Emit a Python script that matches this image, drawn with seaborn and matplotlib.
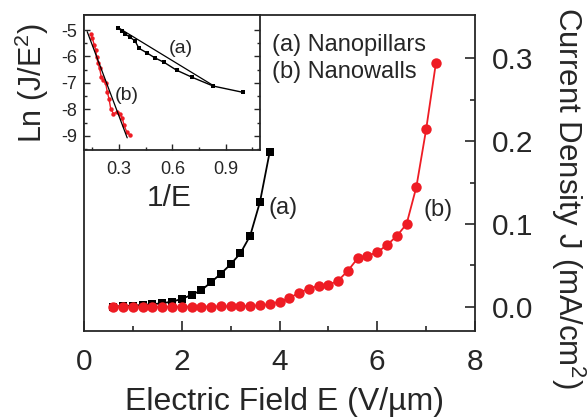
import numpy as np
import pandas as pd
import matplotlib
matplotlib.use("Agg")
import matplotlib.pyplot as plt
from matplotlib.ticker import MultipleLocator, FixedLocator
import seaborn as sns

# ---------------- data ----------------
E_a = [0.6, 0.8, 1.0, 1.2, 1.4, 1.6, 1.8, 2.0, 2.2, 2.4, 2.6, 2.8, 3.0, 3.2, 3.4, 3.6, 3.8]
J_a = [0.0004, 0.0012, 0.0016, 0.0024, 0.0033, 0.0045, 0.0064, 0.0096, 0.0145, 0.0201,
       0.0298, 0.0401, 0.0514, 0.0647, 0.0859, 0.1265, 0.187]

E_b = [0.6, 0.8, 1.0, 1.2, 1.4, 1.6, 1.8, 2.0, 2.2, 2.4, 2.6, 2.8, 3.0, 3.2, 3.4, 3.6, 3.8,
       4.0, 4.2, 4.4, 4.6, 4.8, 5.0, 5.2, 5.4, 5.6, 5.8, 6.0, 6.2, 6.4, 6.6, 6.8, 7.0, 7.2]
J_b = [0.0003, 0.0003, 0.0003, 0.0003, 0.0003, 0.0003, 0.0003, 0.0003, 0.0004, 0.0004,
       0.0005, 0.0006, 0.0008, 0.0010, 0.0013, 0.0018, 0.0033, 0.0064, 0.0105, 0.0173,
       0.0218, 0.0258, 0.0265, 0.0317, 0.0437, 0.0587, 0.0618, 0.0659, 0.0747, 0.0855,
       0.1000, 0.1446, 0.2140, 0.2940]

# inset: Fowler-Nordheim plot
invE_a = [0.296, 0.315, 0.333, 0.362, 0.390, 0.412, 0.456, 0.501, 0.553, 0.624, 0.712, 0.830, 0.999]
lnJ_a = [-4.91, -5.04, -5.14, -5.27, -5.41, -5.69, -5.86, -6.05, -6.22, -6.52, -6.79, -7.12, -7.36]

invE_b = [0.144, 0.150, 0.160, 0.169, 0.174, 0.182, 0.191, 0.200, 0.211, 0.225, 0.234, 0.244,
          0.253, 0.268, 0.287, 0.305, 0.318, 0.328, 0.343, 0.362]
lnJ_b = [-5.15, -5.31, -5.55, -5.76, -6.01, -6.26, -6.45, -6.77, -6.89, -7.02, -7.34, -7.61,
         -7.97, -8.16, -8.12, -8.16, -8.32, -8.60, -8.85, -8.98]

fit_a_x = [0.296, 0.830]
fit_a_y = [-4.91, -7.10]
fit_b_x = [0.121, 0.346]
fit_b_y = [-5.06, -9.08]

legend_lines = ["(a) Nanopillars", "(b) Nanowalls"]

# ---------------- style ----------------
sns.set_style("ticks")
plt.rcParams["font.family"] = ["Liberation Sans", "DejaVu Sans"]
plt.rcParams["mathtext.fontset"] = "custom"
plt.rcParams["mathtext.rm"] = "Liberation Sans"
plt.rcParams["mathtext.it"] = "Liberation Sans:italic"
plt.rcParams["mathtext.default"] = "regular"
plt.rcParams["axes.unicode_minus"] = False

RED = "#ee1c24"
W, H = 587, 418
fig = plt.figure(figsize=(W / 100, H / 100), dpi=100)

def frac(x0, y0, x1, y1):
    return [x0 / W, 1 - y1 / H, (x1 - x0) / W, (y1 - y0) / H]

ax = fig.add_axes(frac(84, 15, 475, 331))
ins = fig.add_axes(frac(84, 15, 260, 150))

# ---------------- main plot ----------------
df_a = pd.DataFrame({"E": E_a, "J": J_a})
df_b = pd.DataFrame({"E": E_b, "J": J_b})
sns.lineplot(data=df_a, x="E", y="J", ax=ax, color="black", marker="s", markersize=5.5,
             markeredgewidth=0, linewidth=1.3, zorder=3)
sns.lineplot(data=df_b, x="E", y="J", ax=ax, color=RED, marker="o", markersize=7.5,
             markeredgewidth=0, linewidth=1.3, zorder=4)

ax.set_xlim(0, 8)
ax.set_ylim(-0.029, 0.352)
ax.xaxis.set_major_locator(MultipleLocator(2))
ax.xaxis.set_minor_locator(MultipleLocator(1))
ax.yaxis.set_major_locator(FixedLocator([0.0, 0.1, 0.2, 0.3]))
ax.yaxis.set_minor_locator(FixedLocator([0.05, 0.15, 0.25]))
ax.yaxis.set_major_formatter(matplotlib.ticker.FormatStrFormatter("%.1f"))
ax.yaxis.tick_right()
ax.tick_params(axis="both", which="both", direction="in", labelsize=21.5,
               left=False, right=True, top=False, bottom=True, width=1.2)
ax.tick_params(axis="both", which="major", length=7)
ax.tick_params(axis="both", which="minor", length=3.6)
ax.tick_params(axis="x", which="major", pad=12)
ax.tick_params(axis="y", which="major", pad=12)
for s in ax.spines.values():
    s.set_linewidth(1.3)
    s.set_visible(True)

ax.set_xlabel("Electric Field E (V/\u00b5m)", fontsize=23)
ax.xaxis.set_label_coords(0.514, -0.225)
ax.xaxis.label.set_va("center")
ax.yaxis.set_label_position("right")
ax.set_ylabel("Current Density J (mA/cm$^2$)", fontsize=22.5, rotation=270)
ax.yaxis.label.set_rotation_mode("anchor")
ax.yaxis.label.set_ha("left")
ax.yaxis.label.set_va("center")
ax.yaxis.set_label_coords(1.238, 1.024)

ax.text(4.07, 0.119, "(a)", fontsize=17, ha="center", va="center")
ax.text(7.24, 0.117, "(b)", fontsize=17, ha="center", va="center")
ax.text(0.481, 0.905, legend_lines[0], transform=ax.transAxes, fontsize=17, ha="left", va="center")
ax.text(0.481, 0.820, legend_lines[1], transform=ax.transAxes, fontsize=17, ha="left", va="center")

# ---------------- inset ----------------
dfi_a = pd.DataFrame({"x": invE_a, "y": lnJ_a})
dfi_b = pd.DataFrame({"x": invE_b, "y": lnJ_b})
sns.lineplot(data=dfi_a, x="x", y="y", ax=ins, color="black", marker="s", markersize=2.6,
             markeredgewidth=0, linewidth=1.0, sort=False, zorder=3)
sns.lineplot(data=dfi_b, x="x", y="y", ax=ins, color=RED, marker="o", markersize=3.2,
             markeredgewidth=0, linewidth=1.0, sort=False, zorder=3)
sns.lineplot(x=fit_a_x, y=fit_a_y, ax=ins, color="black", linewidth=0.9, zorder=4)
sns.lineplot(x=fit_b_x, y=fit_b_y, ax=ins, color="black", linewidth=0.9, zorder=4)

ins.set_xlim(0.103, 1.093)
ins.set_ylim(-9.54, -4.43)
ins.xaxis.set_major_locator(FixedLocator([0.3, 0.6, 0.9]))
ins.xaxis.set_minor_locator(FixedLocator([0.15, 0.45, 0.75, 1.05]))
ins.yaxis.set_major_locator(FixedLocator([-5, -6, -7, -8, -9]))
ins.yaxis.set_minor_locator(FixedLocator([-5.5, -6.5, -7.5, -8.5, -9.5]))
ins.yaxis.set_major_formatter(matplotlib.ticker.FormatStrFormatter("%d"))
ins.tick_params(axis="both", which="both", direction="in", labelsize=13,
                left=True, right=True, top=False, bottom=True, width=1.0)
ins.tick_params(axis="both", which="major", length=4.5)
ins.tick_params(axis="both", which="minor", length=2.5)
ins.tick_params(axis="x", which="major", pad=8)
ins.tick_params(axis="y", which="major", pad=5)
for s in ins.spines.values():
    s.set_linewidth(1.3)

ins.set_xlabel("1/E", fontsize=21.5)
ins.xaxis.set_label_coords(0.483, -0.356)
ins.xaxis.label.set_va("center")
ins.set_ylabel("Ln (J/E$^2$)", fontsize=22)
ins.yaxis.set_label_coords(-0.295, 0.5)
ins.yaxis.label.set_va("center")

ins.text(0.647, -5.69, "(a)", fontsize=14, ha="center", va="center")
ins.text(0.346, -7.46, "(b)", fontsize=14, ha="center", va="center")

fig.savefig("out.png", dpi=100)
